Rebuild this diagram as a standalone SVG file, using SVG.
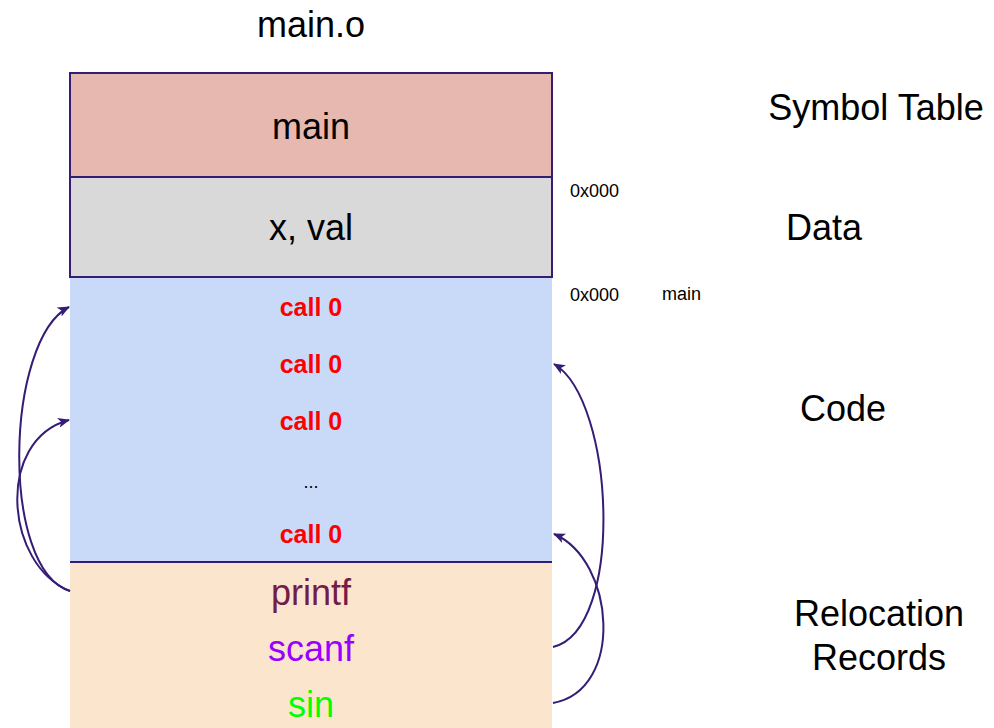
<svg xmlns="http://www.w3.org/2000/svg" width="994" height="728" viewBox="0 0 994 728">
<defs>
<style>
text{font-family:"Liberation Sans",Arial,sans-serif;text-anchor:middle;}
.big{font-size:36px;fill:#000;}
.lbl{font-size:36px;fill:#000;}
.call{font-size:25px;font-weight:bold;fill:#ff0000;}
.small{font-size:18px;fill:#000;text-anchor:start;}
.box{stroke:#351c75;stroke-width:2;}
.conn{fill:none;stroke:#351c75;stroke-width:2;}
</style>
<marker id="ah" viewBox="0 0 12 10" refX="11" refY="5" markerWidth="12" markerHeight="10" markerUnits="userSpaceOnUse" orient="auto">
<path d="M0,0 L12,5 L0,10 L3,5 Z" fill="#351c75"/>
</marker>
</defs>
<rect width="994" height="728" fill="#fff"/>
<text class="big" x="311" y="37">main.o</text>
<g id="symtab">
<rect class="box" x="70" y="73" width="482" height="104" fill="#e6b8af"/>
<text class="big" x="311" y="139">main</text>
</g>
<g id="data">
<rect class="box" x="70" y="177" width="482" height="100" fill="#d9d9d9"/>
<text class="big" x="311" y="240">x, val</text>
</g>
<g id="code">
<rect x="70" y="278" width="482" height="284" fill="#c9daf8"/>
<text class="call" x="311" y="316">call 0</text>
<text class="call" x="311" y="373">call 0</text>
<text class="call" x="311" y="430">call 0</text>
<text x="311" y="488" font-size="18" fill="#000">...</text>
<text class="call" x="311" y="543">call 0</text>
</g>
<g id="reloc">
<rect x="70" y="562" width="482" height="166" fill="#fce5cd"/>
<line x1="70" y1="562" x2="552" y2="562" stroke="#351c75" stroke-width="2"/>
<text class="big" x="311" y="605" style="fill:#741b47">printf</text>
<text class="big" x="311" y="661" style="fill:#9900ff">scanf</text>
<text class="big" x="311" y="717" style="fill:#00ff00">sin</text>
</g>
<g id="labels">
<text class="lbl" x="876" y="120">Symbol Table</text>
<text class="lbl" x="824" y="240">Data</text>
<text class="lbl" x="843" y="421">Code</text>
<text class="lbl" x="879" y="626">Relocation</text>
<text class="lbl" x="879" y="670">Records</text>
<text class="small" x="570" y="197">0x000</text>
<text class="small" x="570" y="301">0x000</text>
<text class="small" x="662" y="300">main</text>
</g>
<g id="connectors">
<path class="conn" d="M70,591 C0,570 5,340 69,307" marker-end="url(#ah)"/>
<path class="conn" d="M70,591 C5,565 -5,440 69,420" marker-end="url(#ah)"/>
<path class="conn" d="M553,647 C625,630 615,400 554,364" marker-end="url(#ah)"/>
<path class="conn" d="M553,703 C625,690 615,560 554,534" marker-end="url(#ah)"/>
</g>
</svg>
